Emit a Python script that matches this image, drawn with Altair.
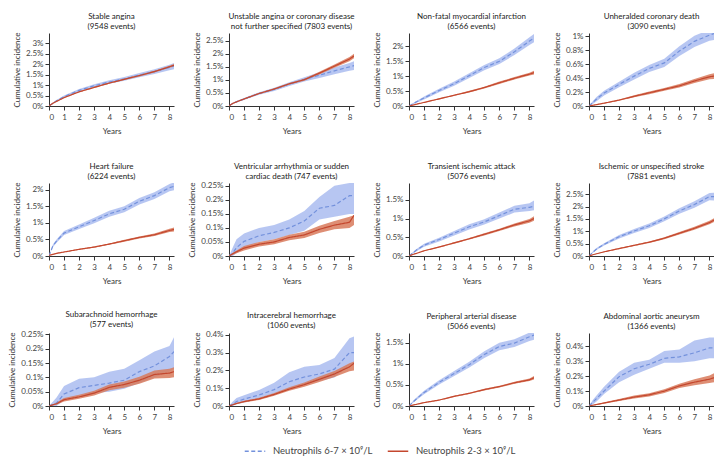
import altair as alt
import pandas as pd

YEARS = [0, 0.25, 0.5, 1, 2, 3, 4, 5, 6, 7, 8, 8.3]

TITLES = [
    ["Stable angina", "(9548 events)"],
    ["Unstable angina or coronary disease", "not further specified (7803 events)"],
    ["Non-fatal myocardial infarction", "(6566 events)"],
    ["Unheralded coronary death", "(3090 events)"],
    ["Heart failure", "(6224 events)"],
    ["Ventricular arrhythmia or sudden", "cardiac death (747 events)"],
    ["Transient ischemic attack", "(5076 events)"],
    ["Ischemic or unspecified stroke", "(7881 events)"],
    ["Subarachnoid hemorrhage", "(577 events)"],
    ["Intracerebral hemorrhage", "(1060 events)"],
    ["Peripheral arterial disease", "(5066 events)"],
    ["Abdominal aortic aneurysm", "(1366 events)"],
]

Y_MAX = [3.5, 2.8, 2.45, 1.05, 2.2, 0.26, 1.95, 2.95, 0.255, 0.41, 1.73, 0.49]
Y_TICKS = [
    [0, 0.5, 1, 1.5, 2, 2.5, 3],
    [0, 0.5, 1, 1.5, 2, 2.5],
    [0, 0.5, 1, 1.5, 2],
    [0, 0.2, 0.4, 0.6, 0.8, 1],
    [0, 0.5, 1, 1.5, 2],
    [0, 0.05, 0.1, 0.15, 0.2, 0.25],
    [0, 0.5, 1, 1.5],
    [0, 0.5, 1, 1.5, 2, 2.5],
    [0, 0.05, 0.1, 0.15, 0.2, 0.25],
    [0, 0.1, 0.2, 0.3, 0.4],
    [0, 0.5, 1, 1.5],
    [0, 0.1, 0.2, 0.3, 0.4],
]

GROUPS = ["Neutrophils 6-7 \u00d7 10\u2079/L", "Neutrophils 2-3 \u00d7 10\u2079/L"]

# Cumulative incidence (%) per panel: high neutrophils (6-7) and low neutrophils (2-3)
P1_HIGH = [0, 0.12, 0.25, 0.45, 0.75, 0.97, 1.15, 1.3, 1.48, 1.65, 1.85, 1.92]
P1_HIGH_LO = [0, 0.09, 0.21, 0.40, 0.69, 0.90, 1.07, 1.21, 1.38, 1.54, 1.72, 1.76]
P1_HIGH_HI = [0, 0.15, 0.29, 0.50, 0.81, 1.04, 1.23, 1.39, 1.58, 1.76, 1.98, 2.06]
P1_LOW = [0, 0.13, 0.22, 0.40, 0.68, 0.89, 1.10, 1.28, 1.46, 1.65, 1.88, 1.95]
P1_LOW_LO = [0, 0.12, 0.21, 0.38, 0.66, 0.86, 1.07, 1.25, 1.42, 1.61, 1.83, 1.89]
P1_LOW_HI = [0, 0.14, 0.23, 0.42, 0.70, 0.92, 1.13, 1.31, 1.50, 1.69, 1.93, 2.01]

P2_HIGH = [0, 0.1, 0.16, 0.27, 0.48, 0.64, 0.84, 1.02, 1.18, 1.35, 1.5, 1.55]
P2_HIGH_LO = [0, 0.08, 0.13, 0.23, 0.43, 0.58, 0.77, 0.94, 1.07, 1.22, 1.35, 1.38]
P2_HIGH_HI = [0, 0.12, 0.19, 0.31, 0.53, 0.70, 0.91, 1.10, 1.29, 1.48, 1.65, 1.72]
P2_LOW = [0, 0.1, 0.16, 0.27, 0.48, 0.65, 0.85, 1.01, 1.26, 1.53, 1.8, 1.92]
P2_LOW_LO = [0, 0.09, 0.15, 0.25, 0.46, 0.62, 0.82, 0.97, 1.21, 1.47, 1.72, 1.83]
P2_LOW_HI = [0, 0.11, 0.17, 0.29, 0.50, 0.68, 0.88, 1.05, 1.31, 1.59, 1.88, 2.0]

P3_HIGH = [0, 0.07, 0.14, 0.27, 0.52, 0.75, 1.02, 1.29, 1.5, 1.82, 2.18, 2.28]
P3_HIGH_LO = [0, 0.05, 0.11, 0.22, 0.46, 0.68, 0.94, 1.2, 1.41, 1.71, 2.05, 2.14]
P3_HIGH_HI = [0, 0.09, 0.17, 0.32, 0.58, 0.82, 1.10, 1.38, 1.6, 1.93, 2.31, 2.42]
P3_LOW = [0, 0.03, 0.06, 0.12, 0.24, 0.36, 0.48, 0.62, 0.78, 0.93, 1.07, 1.12]
P3_LOW_LO = [0, 0.025, 0.05, 0.11, 0.22, 0.34, 0.45, 0.59, 0.74, 0.89, 1.02, 1.06]
P3_LOW_HI = [0, 0.035, 0.07, 0.13, 0.26, 0.38, 0.51, 0.65, 0.82, 0.97, 1.12, 1.18]

P4_HIGH = [0, 0.05, 0.1, 0.186, 0.31, 0.43, 0.54, 0.62, 0.79, 0.93, 1.02, 1.04]
P4_HIGH_LO = [0, 0.03, 0.07, 0.15, 0.27, 0.38, 0.49, 0.56, 0.72, 0.85, 0.94, 0.95]
P4_HIGH_HI = [0, 0.07, 0.13, 0.22, 0.35, 0.48, 0.59, 0.68, 0.86, 1.01, 1.1, 1.13]
P4_LOW = [0, 0.01, 0.02, 0.04, 0.085, 0.14, 0.19, 0.24, 0.29, 0.36, 0.42, 0.43]
P4_LOW_LO = [0, 0.008, 0.016, 0.035, 0.075, 0.125, 0.17, 0.22, 0.265, 0.33, 0.385, 0.39]
P4_LOW_HI = [0, 0.012, 0.024, 0.045, 0.095, 0.155, 0.21, 0.26, 0.315, 0.39, 0.455, 0.47]

P5_HIGH = [0, 0.3, 0.45, 0.69, 0.88, 1.07, 1.27, 1.41, 1.65, 1.82, 2.06, 2.1]
P5_HIGH_LO = [0, 0.26, 0.4, 0.63, 0.81, 0.99, 1.18, 1.32, 1.55, 1.72, 1.95, 1.98]
P5_HIGH_HI = [0, 0.34, 0.5, 0.75, 0.95, 1.15, 1.36, 1.5, 1.75, 1.92, 2.17, 2.22]
P5_LOW = [0.02, 0.05, 0.08, 0.12, 0.2, 0.27, 0.36, 0.46, 0.56, 0.64, 0.77, 0.8]
P5_LOW_LO = [0.02, 0.045, 0.07, 0.11, 0.185, 0.25, 0.34, 0.43, 0.53, 0.6, 0.72, 0.74]
P5_LOW_HI = [0.02, 0.055, 0.09, 0.13, 0.215, 0.29, 0.38, 0.49, 0.59, 0.68, 0.82, 0.86]

P6_HIGH = [0, 0.01, 0.03, 0.052, 0.072, 0.084, 0.1, 0.125, 0.17, 0.18, 0.215, 0.215]
P6_HIGH_LO = [0, 0.0, 0.01, 0.03, 0.05, 0.06, 0.075, 0.09, 0.13, 0.14, 0.15, 0.15]
P6_HIGH_HI = [0, 0.03, 0.06, 0.08, 0.1, 0.11, 0.13, 0.16, 0.21, 0.25, 0.26, 0.26]
P6_LOW = [0, 0.008, 0.015, 0.028, 0.042, 0.05, 0.066, 0.075, 0.095, 0.11, 0.12, 0.145]
P6_LOW_LO = [0, 0.004, 0.01, 0.02, 0.034, 0.042, 0.056, 0.064, 0.082, 0.095, 0.1, 0.11]
P6_LOW_HI = [0, 0.012, 0.02, 0.036, 0.05, 0.06, 0.076, 0.086, 0.108, 0.125, 0.14, 0.145]

P7_HIGH = [0, 0.08, 0.16, 0.29, 0.44, 0.61, 0.78, 0.91, 1.08, 1.25, 1.3, 1.33]
P7_HIGH_LO = [0, 0.06, 0.13, 0.25, 0.39, 0.55, 0.71, 0.84, 1.0, 1.16, 1.2, 1.22]
P7_HIGH_HI = [0, 0.1, 0.19, 0.33, 0.49, 0.67, 0.85, 0.98, 1.16, 1.34, 1.41, 1.48]
P7_LOW = [0, 0.04, 0.07, 0.14, 0.24, 0.35, 0.46, 0.58, 0.7, 0.83, 0.94, 1.0]
P7_LOW_LO = [0, 0.035, 0.065, 0.13, 0.225, 0.33, 0.44, 0.55, 0.67, 0.79, 0.89, 0.94]
P7_LOW_HI = [0, 0.045, 0.075, 0.15, 0.255, 0.37, 0.48, 0.61, 0.73, 0.87, 0.99, 1.06]

P8_HIGH = [0, 0.15, 0.28, 0.47, 0.78, 1.01, 1.22, 1.5, 1.82, 2.08, 2.4, 2.4]
P8_HIGH_LO = [0, 0.12, 0.24, 0.42, 0.71, 0.93, 1.13, 1.4, 1.71, 1.95, 2.25, 2.24]
P8_HIGH_HI = [0, 0.18, 0.32, 0.52, 0.85, 1.09, 1.31, 1.6, 1.93, 2.21, 2.55, 2.56]
P8_LOW = [0, 0.05, 0.09, 0.17, 0.3, 0.43, 0.56, 0.72, 0.92, 1.12, 1.35, 1.45]
P8_LOW_LO = [0, 0.045, 0.08, 0.155, 0.28, 0.405, 0.53, 0.68, 0.87, 1.06, 1.28, 1.37]
P8_LOW_HI = [0, 0.055, 0.1, 0.185, 0.32, 0.455, 0.59, 0.76, 0.97, 1.18, 1.42, 1.53]

P9_HIGH = [0, 0.005, 0.01, 0.042, 0.064, 0.072, 0.08, 0.09, 0.12, 0.14, 0.173, 0.19]
P9_HIGH_LO = [0, 0.0, 0.0, 0.02, 0.035, 0.045, 0.05, 0.06, 0.08, 0.1, 0.12, 0.13]
P9_HIGH_HI = [0, 0.015, 0.03, 0.07, 0.095, 0.1, 0.12, 0.13, 0.16, 0.19, 0.21, 0.24]
P9_LOW = [0, 0.004, 0.008, 0.022, 0.032, 0.045, 0.065, 0.075, 0.09, 0.11, 0.115, 0.12]
P9_LOW_LO = [0, 0.002, 0.004, 0.016, 0.025, 0.037, 0.055, 0.064, 0.078, 0.096, 0.098, 0.1]
P9_LOW_HI = [0, 0.006, 0.012, 0.028, 0.039, 0.053, 0.075, 0.086, 0.102, 0.124, 0.13, 0.135]

P10_HIGH = [0, 0.01, 0.025, 0.039, 0.062, 0.092, 0.136, 0.163, 0.18, 0.207, 0.3, 0.3]
P10_HIGH_LO = [0, 0.0, 0.01, 0.02, 0.04, 0.06, 0.1, 0.12, 0.14, 0.16, 0.23, 0.23]
P10_HIGH_HI = [0, 0.025, 0.045, 0.06, 0.09, 0.13, 0.19, 0.22, 0.23, 0.27, 0.38, 0.39]
P10_LOW = [0, 0.007, 0.014, 0.025, 0.04, 0.065, 0.095, 0.12, 0.15, 0.18, 0.22, 0.24]
P10_LOW_LO = [0, 0.004, 0.01, 0.02, 0.034, 0.057, 0.085, 0.108, 0.135, 0.163, 0.195, 0.2]
P10_LOW_HI = [0, 0.01, 0.018, 0.03, 0.046, 0.073, 0.105, 0.132, 0.165, 0.197, 0.24, 0.25]

P11_HIGH = [0, 0.09, 0.17, 0.32, 0.56, 0.77, 0.98, 1.22, 1.41, 1.49, 1.64, 1.68]
P11_HIGH_LO = [0, 0.07, 0.14, 0.28, 0.51, 0.71, 0.91, 1.14, 1.32, 1.4, 1.54, 1.57]
P11_HIGH_HI = [0, 0.11, 0.2, 0.36, 0.61, 0.83, 1.05, 1.3, 1.5, 1.58, 1.74, 1.79]
P11_LOW = [0, 0.02, 0.04, 0.08, 0.14, 0.23, 0.3, 0.39, 0.46, 0.55, 0.62, 0.67]
P11_LOW_LO = [0, 0.018, 0.035, 0.072, 0.13, 0.215, 0.285, 0.37, 0.44, 0.525, 0.59, 0.63]
P11_LOW_HI = [0, 0.022, 0.045, 0.088, 0.15, 0.245, 0.315, 0.41, 0.48, 0.575, 0.65, 0.71]

P12_HIGH = [0, 0.025, 0.05, 0.1, 0.197, 0.25, 0.28, 0.32, 0.33, 0.357, 0.39, 0.39]
P12_HIGH_LO = [0, 0.01, 0.03, 0.08, 0.16, 0.21, 0.25, 0.29, 0.29, 0.3, 0.32, 0.32]
P12_HIGH_HI = [0, 0.04, 0.07, 0.13, 0.23, 0.29, 0.31, 0.37, 0.38, 0.44, 0.46, 0.46]
P12_LOW = [0, 0.005, 0.01, 0.02, 0.04, 0.06, 0.075, 0.1, 0.135, 0.16, 0.18, 0.19]
P12_LOW_LO = [0, 0.003, 0.007, 0.015, 0.033, 0.05, 0.064, 0.087, 0.12, 0.14, 0.155, 0.16]
P12_LOW_HI = [0, 0.007, 0.013, 0.025, 0.047, 0.07, 0.086, 0.113, 0.15, 0.18, 0.205, 0.22]

SERIES = [
    (P1_HIGH, P1_HIGH_LO, P1_HIGH_HI, P1_LOW, P1_LOW_LO, P1_LOW_HI),
    (P2_HIGH, P2_HIGH_LO, P2_HIGH_HI, P2_LOW, P2_LOW_LO, P2_LOW_HI),
    (P3_HIGH, P3_HIGH_LO, P3_HIGH_HI, P3_LOW, P3_LOW_LO, P3_LOW_HI),
    (P4_HIGH, P4_HIGH_LO, P4_HIGH_HI, P4_LOW, P4_LOW_LO, P4_LOW_HI),
    (P5_HIGH, P5_HIGH_LO, P5_HIGH_HI, P5_LOW, P5_LOW_LO, P5_LOW_HI),
    (P6_HIGH, P6_HIGH_LO, P6_HIGH_HI, P6_LOW, P6_LOW_LO, P6_LOW_HI),
    (P7_HIGH, P7_HIGH_LO, P7_HIGH_HI, P7_LOW, P7_LOW_LO, P7_LOW_HI),
    (P8_HIGH, P8_HIGH_LO, P8_HIGH_HI, P8_LOW, P8_LOW_LO, P8_LOW_HI),
    (P9_HIGH, P9_HIGH_LO, P9_HIGH_HI, P9_LOW, P9_LOW_LO, P9_LOW_HI),
    (P10_HIGH, P10_HIGH_LO, P10_HIGH_HI, P10_LOW, P10_LOW_LO, P10_LOW_HI),
    (P11_HIGH, P11_HIGH_LO, P11_HIGH_HI, P11_LOW, P11_LOW_LO, P11_LOW_HI),
    (P12_HIGH, P12_HIGH_LO, P12_HIGH_HI, P12_LOW, P12_LOW_LO, P12_LOW_HI),
]

LINE_COLORS = ["#7391dc", "#c4472e"]
BAND_COLORS = ["#aabcf0", "#d87a5c"]
DASHES = [[4, 2.5], [1, 0]]

W, H = 125, 73

LEGEND = alt.Legend(title=None, orient="none", direction="horizontal",
                    legendX=195, legendY=407)

panels = []
for i, (hm, hl, hh, lm, ll, lh) in enumerate(SERIES):
    rows = []
    for g, (m, lo, hi) in enumerate([(hm, hl, hh), (lm, ll, lh)]):
        for k, yr in enumerate(YEARS):
            rows.append({"year": yr, "group": GROUPS[g], "order": g,
                         "mean": m[k], "lo": lo[k], "hi": hi[k]})
    df = pd.DataFrame(rows)
    base = alt.Chart(df)
    x = alt.X("year:Q", scale=alt.Scale(domain=[0, 8.3], nice=False),
              axis=alt.Axis(values=list(range(9)), format="d", title="Years"))
    yscale = alt.Scale(domain=[0, Y_MAX[i]], nice=False)
    yaxis = alt.Axis(values=Y_TICKS[i], title="Cumulative incidence",
                     labelExpr="format(datum.value, '~g') + '%'")
    bands = [
        base.transform_filter(alt.datum.order == g)
        .mark_area(clip=True, opacity=0.85, color=BAND_COLORS[g])
        .encode(x=x, y=alt.Y("lo:Q", scale=yscale, axis=yaxis), y2="hi:Q")
        for g in range(2)
    ]
    line = base.mark_line(clip=True, strokeWidth=1.2).encode(
        x=x,
        y=alt.Y("mean:Q", scale=yscale, axis=yaxis),
        color=alt.Color("group:N", scale=alt.Scale(domain=GROUPS, range=LINE_COLORS),
                        legend=LEGEND),
        strokeDash=alt.StrokeDash("group:N", scale=alt.Scale(domain=GROUPS, range=DASHES),
                                  legend=LEGEND),
    )
    panels.append(
        alt.layer(*bands, line).properties(
            width=W, height=H,
            title=alt.TitleParams(TITLES[i], fontSize=8, fontWeight="normal",
                                  color="#222", offset=1, lineHeight=10, anchor="middle"),
        )
    )

chart = (
    alt.concat(*panels, columns=4, spacing={"row": 77, "column": 55}, bounds="flush",
               padding={"top": 4, "left": 0, "right": 0, "bottom": 0})
    .resolve_scale(y="independent", x="independent")
    .configure(font="Lato")
    .configure_view(stroke=None)
    .configure_axis(grid=False, labelFontSize=8, titleFontSize=8, titleFontWeight="normal",
                    labelColor="#444", titleColor="#333", domainColor="#333",
                    tickColor="#333", tickSize=4, labelPadding=2)
    .configure_axisX(titlePadding=6, labelPadding=3)
    .configure_axisY(titlePadding=4)
    .configure_legend(labelFontSize=9.5, labelColor="#444", symbolType="stroke",
                      symbolSize=420, symbolStrokeWidth=1.3, columnPadding=12,
                      labelOffset=7)
)

chart.save("out.html", embed_options={"renderer": "svg", "actions": False})
